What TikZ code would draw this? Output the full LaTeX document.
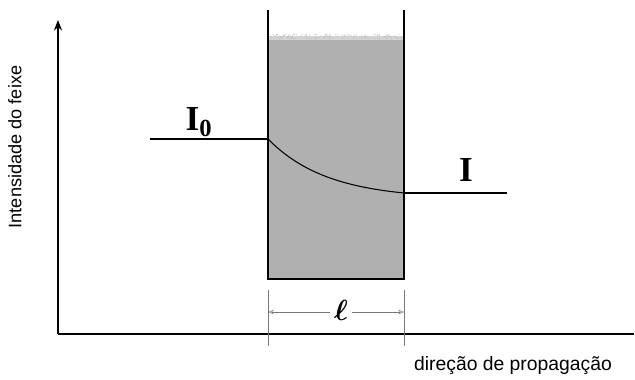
\documentclass[tikz,border=0pt]{standalone}
\usepackage{amsmath}
\usepackage{bm}
\usepackage{fontspec}
\setmainfont{Liberation Serif}
\setsansfont{Liberation Sans}
\usepackage{xcolor}
\definecolor{sample}{RGB}{176,176,176}
\definecolor{dimline}{RGB}{120,120,120}
\usetikzlibrary{positioning, arrows.meta, calc}

\begin{document}
\begin{tikzpicture}[x=0.03cm, y=-0.03cm,
  axis/.style={line width=1.1pt},
  beam/.style={line width=0.9pt},
  wall/.style={line width=1pt},
  dimen/.style={draw=dimline, line width=0.4pt},
  axlabel/.style={font=\sffamily\fontsize{15.5}{17}\selectfont, inner sep=0pt},
  intlabel/.style={font=\bfseries\fontsize{30}{32}\selectfont, inner sep=0pt},
]
\useasboundingbox (0,0) rectangle (635,379);

% Axes
\coordinate (orig) at (58,334);
\coordinate (ytop) at (58,20);
\coordinate (xend) at (634,334);
\draw[axis, -{Stealth[length=9pt, width=7pt]}] (orig) -- (ytop);
\draw[axis] (orig) -- (xend);

% Sample
\coordinate (cuvTL) at (268,10);
\coordinate (cuvBL) at (268,279);
\coordinate (cuvTR) at (404,10);
\coordinate (cuvBR) at (404,279);
\fill[sample] (268,40) rectangle (cuvBR);
\fill[sample!55] (268,36) rectangle (404,40);
\pgfmathsetseed{7}
\foreach \k in {1,...,160} {
  \fill[sample!80!black!60] ({270+132*rnd},{34+5*rnd}) circle (0.5);
}
\draw[wall] (cuvTL) -- (cuvBL) -- (cuvBR) -- (cuvTR);

% Beam
\coordinate (inL) at (150,139);
\coordinate (inR) at (268,139);
\coordinate (outL) at (404,193);
\coordinate (outR) at (507,193);
\draw[beam] (inL) -- (inR);
\draw[beam] plot[domain=0:1, samples=40, variable=\t]
  ({268+136*\t}, {139+54*(1-exp(-2.3*\t))/(1-exp(-2.3))});
\draw[beam] (outL) -- (outR);

\node[intlabel] (lblIo) at (199,122) {I\textsubscript{0}};
\node[intlabel] (lblI) at (466,170) {I};

% Path length
\coordinate (extL1) at (268,290);
\coordinate (extL2) at (268,346);
\coordinate (extR1) at (404,290);
\coordinate (extR2) at (404,346);
\coordinate (dimL) at (268,312);
\coordinate (dimR) at (404,312);
\draw[dimen] (extL1) -- (extL2);
\draw[dimen] (extR1) -- (extR2);
\node[font=\fontsize{26}{28}\selectfont, inner sep=3pt] (lblEll) at (341,310) {$\bm{\ell}$};
\draw[dimen, -{Stealth[length=5pt, width=4pt, open]}] (lblEll.west |- dimL) -- (dimL);
\draw[dimen, -{Stealth[length=5pt, width=4pt, open]}] (lblEll.east |- dimR) -- (dimR);

% Axis labels
\node[axlabel, rotate=90] (lblY) at (15,147) {Intensidade do feixe};
\node[axlabel, font=\sffamily\fontsize{16.5}{18}\selectfont] (lblX) at (513,366) {direção de propagação};
\end{tikzpicture}
\end{document}
